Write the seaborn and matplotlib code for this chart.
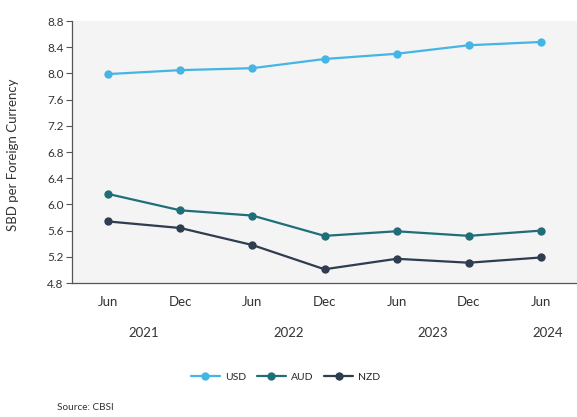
import matplotlib
matplotlib.use("Agg")
import matplotlib.pyplot as plt
import matplotlib.transforms as mtransforms
import numpy as np
import pandas as pd
import seaborn as sns

# Exchange rates: SBD per unit of foreign currency, half-yearly
periods = ["Jun", "Dec", "Jun", "Dec", "Jun", "Dec", "Jun"]
years = ["2021", "2022", "2023", "2024"]
usd = [7.99, 8.05, 8.08, 8.22, 8.30, 8.43, 8.48]
aud = [6.16, 5.91, 5.83, 5.52, 5.59, 5.52, 5.60]
nzd = [5.74, 5.64, 5.38, 5.01, 5.17, 5.11, 5.19]
y_ticks = [4.8, 5.2, 5.6, 6.0, 6.4, 6.8, 7.2, 7.6, 8.0, 8.4, 8.8]

sns.set_theme(style="white")
plt.rcParams["font.family"] = ["Lato", "DejaVu Sans"]

pos = np.arange(len(periods))
df = pd.DataFrame({
    "pos": np.tile(pos, 3),
    "value": usd + aud + nzd,
    "currency": ["USD"] * len(usd) + ["AUD"] * len(aud) + ["NZD"] * len(nzd),
})
palette = {"USD": "#45b5e4", "AUD": "#1f6e79", "NZD": "#2e3d4f"}

fig = plt.figure(figsize=(5.77, 4.17), dpi=100)
ax = fig.add_axes([0.1248, 0.3213, 0.8752, 0.6283])
ax.set_facecolor("#f4f4f4")

sns.lineplot(data=df, x="pos", y="value", hue="currency", palette=palette,
             marker="o", markersize=6, markeredgewidth=0, linewidth=1.6,
             ax=ax, legend=True)

ax.set_xlim(-0.5, len(periods) - 0.5)
ax.set_ylim(4.8, 8.8)
ax.set_yticks(y_ticks)
ax.set_yticklabels([f"{t:.1f}" for t in y_ticks], fontsize=8.5, color="#333333")
ax.set_xticks(pos)
ax.set_xticklabels(periods, fontsize=9.5, color="#333333")
ax.set_xticks(np.arange(-0.5, len(periods), 1.0), minor=True)
ax.tick_params(axis="x", which="major", length=0, pad=9)
ax.tick_params(axis="x", which="minor", length=4, width=0.8, color="#555555",
               direction="inout")
ax.tick_params(axis="y", length=4, width=0.8, color="#555555", left=True,
               direction="out", pad=2)
ax.set_xlabel("")
ax.set_ylabel("SBD per Foreign Currency", fontsize=9.5, color="#333333")
ax.yaxis.set_label_coords(-0.104, 0.49)

sns.despine(ax=ax)
for side in ("left", "bottom"):
    ax.spines[side].set_color("#555555")
    ax.spines[side].set_linewidth(0.9)

# Year labels under the period labels
trans = mtransforms.blended_transform_factory(ax.transData, ax.transAxes)
year_pos = [0.5, 2.5, 4.5, 6.1]
for yr, xp in zip(years, year_pos):
    ax.text(xp, -0.19, yr, transform=trans, ha="center", va="center",
            fontsize=9.5, color="#333333")

handles, labels = ax.get_legend_handles_labels()
ax.legend_.remove()
fig.legend(handles, labels, loc="center", bbox_to_anchor=(0.495, 1 - 377 / 417),
           ncol=3, frameon=False, fontsize=7.5, handlelength=2.8,
           columnspacing=1.0, handletextpad=0.5)

fig.text(57 / 577, 1 - 408 / 417, "Source: CBSI", fontsize=7.2, color="#333333",
         ha="left", va="center")

fig.savefig("out.png", dpi=100)
